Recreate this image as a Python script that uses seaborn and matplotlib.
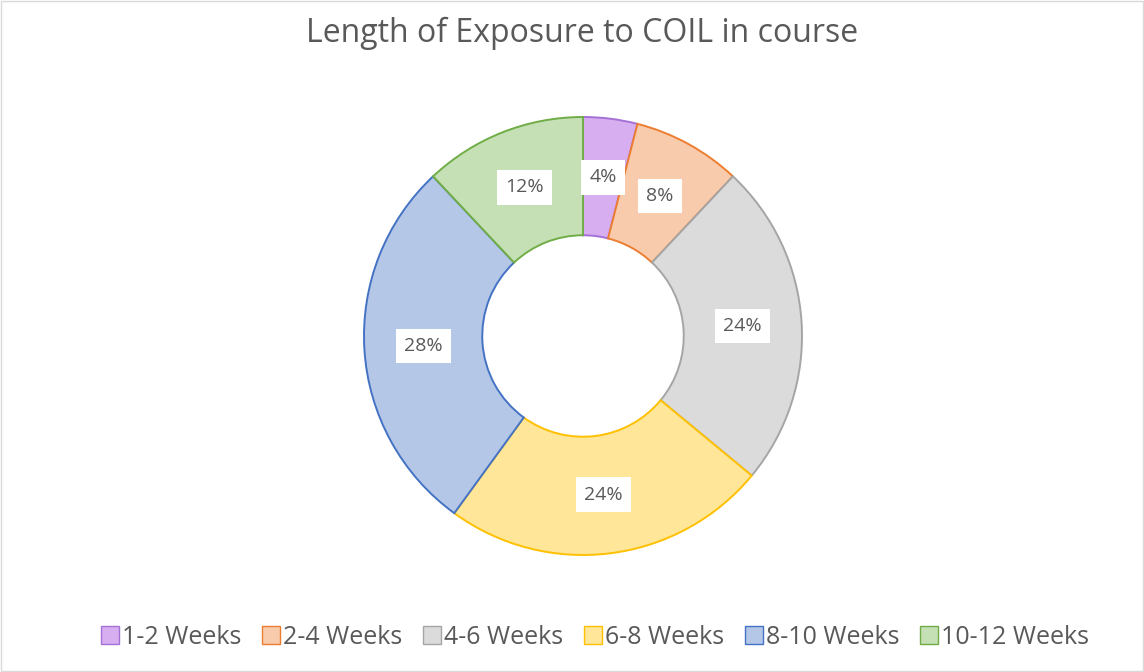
import matplotlib
matplotlib.use("Agg")
import matplotlib.pyplot as plt
import matplotlib.patches as mpatches
import seaborn as sns

categories = ["1-2 Weeks", "2-4 Weeks", "4-6 Weeks", "6-8 Weeks", "8-10 Weeks", "10-12 Weeks"]
shares = [4, 8, 24, 24, 28, 12]
fill_colors = ["#D7AEF0", "#F8CBAD", "#DBDBDB", "#FFE699", "#B4C7E7", "#C5E0B4"]
edge_colors = ["#A571D6", "#ED7D31", "#A5A5A5", "#FFC000", "#4472C4", "#70AD47"]

sns.set_theme(style="white")
plt.rcParams["font.family"] = ["Open Sans", "DejaVu Sans"]

fig = plt.figure(figsize=(11.44, 6.72), dpi=100)
fig.patches.append(mpatches.Rectangle((0.001, 0.001), 0.998, 0.997, transform=fig.transFigure,
                                      fill=False, edgecolor="#D9D9D9", linewidth=1))

# donut centred at (583, 336) px, outer radius ~219 px
r = 219
cx, cy = 583, 336
ax = fig.add_axes([(cx - r) / 1144, (672 - cy - r) / 672, 2 * r / 1144, 2 * r / 672])

wedges, texts, autotexts = ax.pie(
    shares, colors=fill_colors, startangle=90, counterclock=False,
    radius=1.0, autopct=lambda p: f"{p:.0f}%", pctdistance=0.73,
    wedgeprops=dict(width=0.54, linewidth=1.4),
    textprops=dict(color="#595959", fontsize=14),
)
for w, ec in zip(wedges, edge_colors):
    w.set_edgecolor(ec)
for t in autotexts:
    t.set_bbox(dict(facecolor="white", edgecolor="none", boxstyle="square,pad=0.42"))
ax.set_aspect("equal")
ax.set_xlim(-1, 1)
ax.set_ylim(-1, 1)
ax.axis("off")

fig.text(582 / 1144, 1 - 33 / 672, "Length of Exposure to COIL in course",
         ha="center", va="center", fontsize=23, color="#595959")

handles = [mpatches.Patch(facecolor=fc, edgecolor=ec, linewidth=1)
           for fc, ec in zip(fill_colors, edge_colors)]
fig.legend(handles, categories, loc="center", bbox_to_anchor=(595 / 1144, 1 - 637 / 672),
           ncol=6, frameon=False, fontsize=18, labelcolor="#595959",
           handlelength=0.7, handleheight=0.7, handletextpad=0.12, columnspacing=0.85)

fig.savefig("out.png", dpi=100, facecolor="white")
